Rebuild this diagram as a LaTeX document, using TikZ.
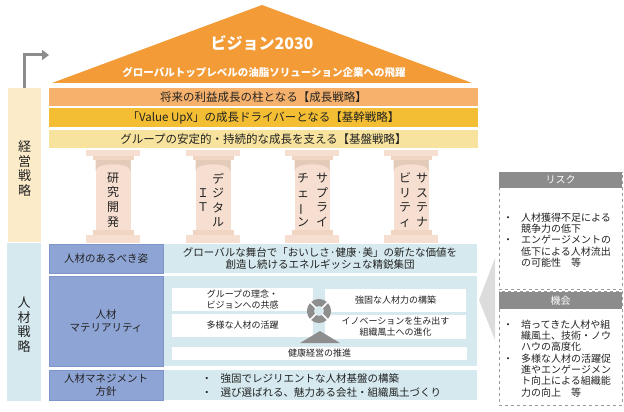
\documentclass[tikz,border=0pt]{standalone}
\usepackage{fontspec}
\setmainfont{Noto Sans CJK JP}
\usetikzlibrary{arrows.meta}
\definecolor{roof}{HTML}{F29B37}
\definecolor{bandA}{HTML}{F6B26C}
\definecolor{bandB}{HTML}{F3BE33}
\definecolor{bandC}{HTML}{F7E39E}
\definecolor{cream}{HTML}{FBEBC8}
\definecolor{pillarlight}{HTML}{F6DFD0}
\definecolor{pillarneck}{HTML}{F0D5C3}
\definecolor{pillardark}{HTML}{E2CBB9}
\definecolor{paleblue}{HTML}{D5E9EF}
\definecolor{labelblue}{HTML}{8EA4D4}
\definecolor{labeledge}{HTML}{7D95CB}
\definecolor{icongrey}{HTML}{8E8E8E}
\definecolor{headgrey}{HTML}{8C8C8C}
\definecolor{dashgrey}{HTML}{9A9A9A}
\definecolor{chevgrey}{HTML}{DCDCDC}
\definecolor{inktext}{HTML}{222222}
\begin{document}
\begin{tikzpicture}[x=1pt,y=-1pt,
    band/.style={minimum width=429,inner sep=0,text=inktext,font=\fontsize{11.5}{13}\selectfont},
    sidecol/.style={minimum width=33,inner sep=0},
    vtext/.style={inner sep=0,align=center,text=inktext,font=\fontsize{13}{14.5}\selectfont},
    ptext/.style={inner sep=0,align=center,text=inktext,font=\fontsize{12}{14.6}\selectfont},
    rowlabel/.style={fill=labelblue,draw=labeledge,line width=0.8,minimum width=114,inner sep=0,align=center,text=inktext,font=\fontsize{10.5}{12.5}\selectfont},
    rowbody/.style={fill=paleblue,minimum width=314,inner sep=0,align=center,text=inktext,font=\fontsize{10.5}{12.5}\selectfont},
    whitebox/.style={fill=white,inner sep=0,align=center,text=inktext,font=\fontsize{9}{11}\selectfont},
    headbox/.style={fill=headgrey,minimum width=123,inner sep=0,text=white,font=\fontsize{10}{12}\selectfont},
    dashbox/.style={draw=dashgrey,dashed,line width=0.7,minimum width=123,inner sep=0},
    listtext/.style={inner sep=0,align=left,text=inktext,font=\fontsize{10}{11.3}\selectfont},
    bentarrow/.style={draw=headgrey,line width=3,-{Triangle[length=7pt,width=10pt]}}
]
\useasboundingbox (0,0) rectangle (624,412);

% Dach: Vision
\fill[roof] (52,83) -- (262,5) -- (472,83) -- cycle;
\node[text=white,font=\fontsize{16}{18}\bfseries] (vis) at (262,43) {ビジョン2030};
\node[text=white,font=\fontsize{10.5}{12}\bfseries] (vissub) at (264,72) {グローバルトップレベルの油脂ソリューション企業への飛躍};

% Pasy strategii
\node[band,fill=bandA,minimum height=18] (band1) at (263.5,97) {将来の利益成長の柱となる【成長戦略】};
\node[band,fill=bandB,minimum height=19] (band2) at (263.5,117.5) {「Value UpX」の成長ドライバーとなる【基幹戦略】};
\node[band,fill=bandC,minimum height=18] (band3) at (263.5,139) {グループの安定的・持続的な成長を支える【基盤戦略】};

% Kolumna lewa + strzalka
\node[sidecol,fill=cream,minimum height=154] (keiei) at (24.5,165) {};
\node[vtext] (keieitxt) at (24.5,168.5) {経\\営\\戦\\略};
\coordinate (up) at (49,55);
\draw[bentarrow] (keiei.north) |- (up);

% Filary
\fill[pillarlight] (86,150) rectangle (140,156);
\fill[pillarneck] (92.5,156) rectangle (133.5,160);
\fill[pillarlight] (95.5,160) rectangle (130.5,230);
\fill[pillardark] (95.5,160) -- (130.5,160) -- (130.5,171) .. controls (130.5,162) and (95.5,162) .. (95.5,171) -- cycle;
\fill[pillarneck] (92.5,230) rectangle (133.5,235);
\fill[pillarlight] (86,235) rectangle (140,243);

\fill[pillarlight] (186,150) rectangle (240,156);
\fill[pillarneck] (192.5,156) rectangle (233.5,160);
\fill[pillarlight] (195.5,160) rectangle (230.5,230);
\fill[pillardark] (195.5,160) -- (230.5,160) -- (230.5,171) .. controls (230.5,162) and (195.5,162) .. (195.5,171) -- cycle;
\fill[pillarneck] (192.5,230) rectangle (233.5,235);
\fill[pillarlight] (186,235) rectangle (240,243);

\fill[pillarlight] (285,150) rectangle (339,156);
\fill[pillarneck] (291.5,156) rectangle (332.5,160);
\fill[pillarlight] (294.5,160) rectangle (329.5,230);
\fill[pillardark] (294.5,160) -- (329.5,160) -- (329.5,171) .. controls (329.5,162) and (294.5,162) .. (294.5,171) -- cycle;
\fill[pillarneck] (291.5,230) rectangle (332.5,235);
\fill[pillarlight] (285,235) rectangle (339,243);

\fill[pillarlight] (384,150) rectangle (438,156);
\fill[pillarneck] (390.5,156) rectangle (431.5,160);
\fill[pillarlight] (393.5,160) rectangle (428.5,230);
\fill[pillardark] (393.5,160) -- (428.5,160) -- (428.5,171) .. controls (428.5,162) and (393.5,162) .. (393.5,171) -- cycle;
\fill[pillarneck] (390.5,230) rectangle (431.5,235);
\fill[pillarlight] (384,235) rectangle (438,243);

% Napisy na filarach
\node[ptext] (p1) at (113,200) {研\\究\\開\\発};
\node[ptext] (p2a) at (218,200) {デ\\ジ\\タ\\ル};
\node[ptext] (p2b) at (203,200) {Ｉ\\Ｔ};
\node[ptext] (p3a) at (322,200) {サ\\プ\\ラ\\イ};
\node[ptext] (p3b) at (303,200) {チ\\ェ\\\rotatebox[origin=c]{90}{ー}\\ン};
\node[ptext] (p4a) at (422,200) {サ\\ス\\テ\\ナ};
\node[ptext] (p4b) at (405,200) {ビ\\リ\\テ\\ィ};

% Kolumna lewa dolna
\node[sidecol,fill=paleblue,minimum width=34,minimum height=158] (jinzai) at (24,322) {};
\node[vtext] (jinzaitxt) at (24,324.5) {人\\材\\戦\\略};

% Wiersz 1
\node[rowbody,minimum height=29] (row1) at (320,258.5) {グローバルな舞台で「おいしさ·健康·美」の新たな価値を\\創造し続けるエネルギッシュな精鋭集団};
\node[rowlabel,minimum height=29] (lab1) at (106,258.5) {人材のあるべき姿};

% Wiersz 2
\node[rowbody,minimum height=90] (row2) at (320,321) {};
\node[rowlabel,minimum height=90] (lab2) at (106,321) {人材\\マテリアリティ};
\node[whitebox,minimum width=141,minimum height=23] (wA) at (242.5,299.5) {グループの理念・\\ビジョンへの共感};
\node[whitebox,minimum width=141,minimum height=23] (wB) at (242.5,325.5) {多様な人材の活躍};
\node[whitebox,minimum width=141,minimum height=23] (wC) at (395.5,300.5) {強固な人材力の構築};
\node[whitebox,minimum width=141,minimum height=24] (wD) at (395.5,327) {イノベーションを生み出す\\組織風土への進化};
\node[whitebox,minimum width=295,minimum height=13] (wE) at (319.5,353.5) {健康経営の推進};

% Ikona cyklu i trojkat
\fill[icongrey] (320,331) -- (340,343) -- (300,343) -- cycle;
\node[circle,draw=icongrey,line width=7,minimum size=17,inner sep=0] (cyc) at (319,311) {};
\draw[white,line width=1.5] ([shift={(45:4)}]cyc.center) -- ([shift={(45:13)}]cyc.center);
\draw[white,line width=1.5] ([shift={(135:4)}]cyc.center) -- ([shift={(135:13)}]cyc.center);
\draw[white,line width=1.5] ([shift={(225:4)}]cyc.center) -- ([shift={(225:13)}]cyc.center);
\draw[white,line width=1.5] ([shift={(315:4)}]cyc.center) -- ([shift={(315:13)}]cyc.center);

% Wiersz 3
\node[rowbody,minimum height=30] (row3) at (320,385) {};
\node[rowlabel,minimum height=30] (lab3) at (106,385) {人材マネジメント\\方針};
\node[listtext,anchor=west,font=\fontsize{10.5}{14}\selectfont] (row3txt) at (201.5,386) {\makebox[19pt][l]{・}強固でレジリエントな人材基盤の構築\\\makebox[19pt][l]{・}選び選ばれる、魅力ある会社・組織風土づくり};

% Szewron
\fill[chevgrey] (495,258) -- (479,300) -- (495,340) -- cycle;

% Ryzyka
\node[dashbox,minimum height=117] (risk) at (560.5,230.5) {};
\node[headbox,minimum height=16] (riskhd) at (560.5,180) {リスク};
\node[listtext,anchor=west] (risktxt) at (503,240) {\makebox[18pt][l]{・}人材獲得不足による\\\hspace*{18pt}競争力の低下\\\makebox[18pt][l]{・}エンゲージメントの\\\hspace*{18pt}低下による人材流出\\\hspace*{18pt}の可能性　等};

% Szanse
\node[dashbox,minimum height=114] (opp) at (560.5,348) {};
\node[headbox,minimum height=17] (opphd) at (560.5,300.5) {機会};
\node[listtext,anchor=west] (opptxt) at (503,358.5) {\makebox[18pt][l]{・}培ってきた人材や組\\\hspace*{18pt}織風土、技術・ノウ\\\hspace*{18pt}ハウの高度化\\\makebox[18pt][l]{・}多様な人材の活躍促\\\hspace*{18pt}進やエンゲージメン\\\hspace*{18pt}ト向上による組織能\\\hspace*{18pt}力の向上　等};

\end{tikzpicture}
\end{document}
